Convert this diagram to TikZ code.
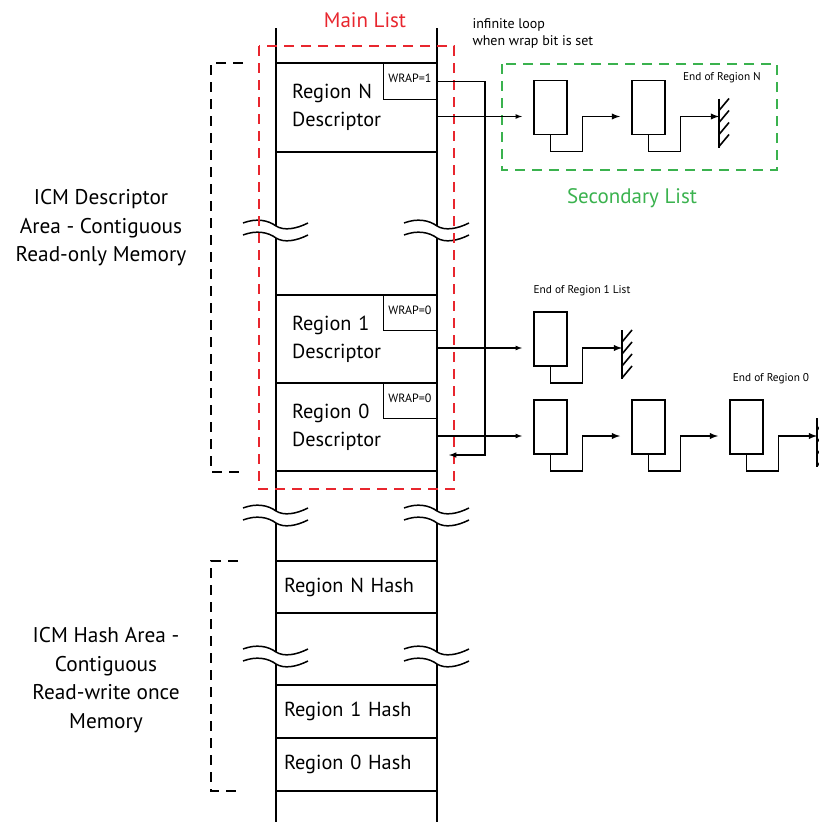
\documentclass[tikz,border=0pt]{standalone}
\usepackage{fontspec}
\setmainfont{PT Sans}
\usepackage{xcolor}
\usepackage{tikz}
\usetikzlibrary{positioning,calc}

\definecolor{mainred}{RGB}{232,38,46}
\definecolor{secgreen}{RGB}{58,178,78}

% two wavy break marks across a column line at (#1,#2)
\newcommand{\brkmark}[2]{%
  \foreach \dy in {0,12}{%
    \draw[brk] (#1-33,#2+\dy-3) .. controls (#1-20,#2+\dy-8) and (#1-8,#2+\dy-6) .. (#1,#2+\dy)
      .. controls (#1+8,#2+\dy+5) and (#1+20,#2+\dy+3) .. (#1+32,#2+\dy-3);}}
% end-of-list stop mark at a coordinate
\newcommand{\stopmark}[1]{%
  \draw[stop] ($(#1)+(0,-18)$) -- ($(#1)+(0,31)$);
  \foreach \dy in {-6,6,18,30}
    \draw[stop] ($(#1)+(0,\dy)$) -- ++(10,-12);}

\begin{document}
\begin{tikzpicture}[
  x=1pt, y=-1pt,
  col/.style={line width=1.7pt},
  cell/.style={draw, line width=1.4pt, minimum width=161pt, inner sep=0pt, outer sep=0pt,
    align=left, font=\fontsize{20.3}{28}\selectfont},
  wrapbox/.style={draw, line width=1.2pt, minimum width=53pt, minimum height=36pt,
    anchor=north east, inner sep=0pt},
  small/.style={font=\fontsize{12}{16}\selectfont},
  endlbl/.style={font=\fontsize{11.3}{14}\selectfont},
  elem/.style={draw, line width=1.8pt, minimum width=33pt, minimum height=54pt,
    inner sep=0pt, outer sep=0pt},
  link/.style={->, >=latex, line width=1.8pt},
  ptr/.style={->, >=latex, line width=1.2pt},
  brk/.style={line width=1.5pt},
  stop/.style={line width=1.6pt},
  area/.style={dash pattern=on 10pt off 7pt, line width=1.5pt},
  title/.style={font=\fontsize{21}{25}\selectfont},
  side/.style={align=center, font=\fontsize{21.3}{28.5}\selectfont}
]
\useasboundingbox (0,0) rectangle (819,822);

% Memory column
\foreach \cx in {276,437}{
  \draw[col] (\cx,28) -- (\cx,226);
  \draw[col] (\cx,238) -- (\cx,511);
  \draw[col] (\cx,523) -- (\cx,652);
  \draw[col] (\cx,664) -- (\cx,822);
  \brkmark{\cx}{226}
  \brkmark{\cx}{511}
  \brkmark{\cx}{652}
}

% Descriptor cells
\node[cell, minimum height=89pt, text width=129pt] (descN) at (356.5,107.5) {Region N\\Descriptor};
\node[cell, minimum height=88pt, text width=129pt] (desc1) at (356.5,339) {Region 1\\Descriptor};
\node[cell, minimum height=88pt, text width=129pt] (desc0) at (356.5,427) {Region 0\\Descriptor};

\node[wrapbox, label={[small, anchor=north, yshift=-7pt]north:WRAP=1}] (wrapN) at (descN.north east) {};
\node[wrapbox, minimum height=35pt, label={[small, anchor=north, yshift=-7pt]north:WRAP=0}] (wrap1) at (desc1.north east) {};
\node[wrapbox, minimum height=35pt, label={[small, anchor=north, yshift=-7pt]north:WRAP=0}] (wrap0) at (desc0.north east) {};

% Hash cells
\node[cell, minimum height=52pt, text width=145pt] (hashN) at (356.5,587) {Region N Hash};
\node[cell, minimum height=53pt, text width=145pt] (hash1) at (356.5,711.5) {Region 1 Hash};
\node[cell, minimum height=53pt, text width=145pt] (hash0) at (356.5,764.5) {Region 0 Hash};

% Main list and secondary list frames
\draw[area, mainred] (259,46) rectangle (454,489);
\node[title, text=mainred] (mainlbl) at (365,20) {Main List};
\draw[area, secgreen] (502,64) rectangle (777,170);
\node[title, text=secgreen] (seclbl) at (632,198) {Secondary List};

% Area brackets
\draw[area] (243,63) -- (211,63) -- (211,472) -- (243,472);
\draw[area] (238,561) -- (211,561) -- (211,791) -- (243,791);
\node[side] (descarea) at (101,228) {ICM Descriptor\\Area - Contiguous\\Read-only Memory};
\node[side] (hasharea) at (106,680) {ICM Hash Area -\\Contiguous\\Read-write once\\Memory};

% Wrap loop
\coordinate (loopend) at ($(desc0.east)+(12,28)$);
\draw[ptr, line width=1.5pt] (wrapN.east) -| (485,455) -- (loopend);
\node[font=\fontsize{14}{17}\selectfont, anchor=west, align=left] (looplbl) at (469,33) {infinite loop\\when wrap bit is set};

% Secondary list of region N
\node[elem, right=97pt of descN] (sN1) {};
\node[elem, right=65pt of sN1] (sN2) {};
\coordinate (endN) at ($(sN2.east)+(54,9)$);
\draw[ptr] ($(descN.east)+(0,9)$) -- ($(sN1.west)+(-12,9)$);
\draw[link] (sN1.south) -- ++(0,17) -- ++(32,0) |- ($(sN2.west)+(-12,9)$);
\draw[link] (sN2.south) -- ++(0,17) -- ++(32,0) |- (endN);
\stopmark{endN}
\node[endlbl] (endNlbl) at (722,78) {End of Region N};

% Region 1 list
\node[elem, right=97pt of desc1] (r1a) {};
\coordinate (end1) at ($(r1a.east)+(55,9)$);
\draw[ptr] ($(desc1.east)+(0,9)$) -- ($(r1a.west)+(-12,9)$);
\draw[link] (r1a.south) -- ++(0,17) -- ++(32,0) |- (end1);
\stopmark{end1}
\node[endlbl] (end1lbl) at (582,291) {End of Region 1 List};

% Region 0 list
\node[elem, right=97pt of desc0] (r0a) {};
\node[elem, right=65pt of r0a] (r0b) {};
\node[elem, right=65pt of r0b] (r0c) {};
\coordinate (end0) at ($(r0c.east)+(54,9)$);
\draw[ptr] ($(desc0.east)+(0,9)$) -- ($(r0a.west)+(-12,9)$);
\draw[link] (r0a.south) -- ++(0,17) -- ++(32,0) |- ($(r0b.west)+(-12,9)$);
\draw[link] (r0b.south) -- ++(0,17) -- ++(32,0) |- ($(r0c.west)+(-12,9)$);
\draw[link] (r0c.south) -- ++(0,17) -- ++(32,0) |- (end0);
\stopmark{end0}
\node[endlbl] (end0lbl) at (771,379) {End of Region 0};

\end{tikzpicture}
\end{document}
